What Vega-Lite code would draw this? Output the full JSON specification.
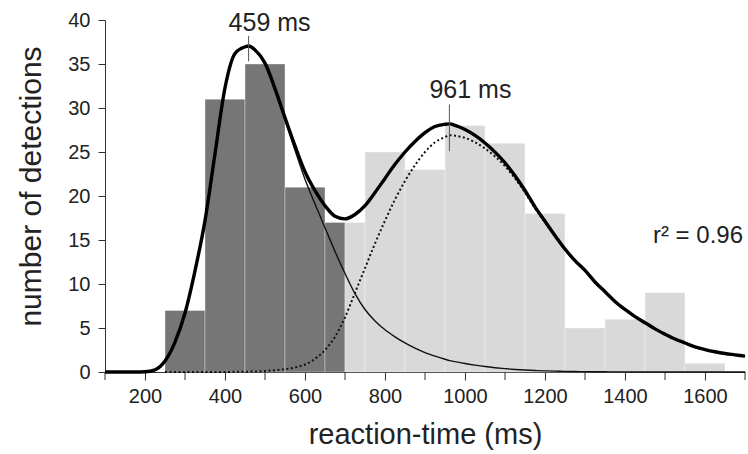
{
  "$schema": "https://vega.github.io/schema/vega-lite/v6.json",
  "width": 640,
  "height": 352,
  "autosize": {"type": "none"},
  "padding": {"left": 105, "top": 20, "right": 3, "bottom": 82},
  "background": "white",
  "config": {
    "view": {"stroke": null},
    "font": "Liberation Sans",
    "axis": {
      "domainColor": "#333333",
      "tickColor": "#333333",
      "labelColor": "#222222",
      "titleColor": "#222222",
      "labelFont": "Liberation Sans",
      "titleFont": "Liberation Sans",
      "labelFontSize": 20,
      "titleFontWeight": "normal",
      "grid": false
    }
  },
  "datasets": {
    "bars": [
      {"start": 250, "end": 350, "count": 7, "group": "fast"},
      {"start": 350, "end": 450, "count": 31, "group": "fast"},
      {"start": 450, "end": 550, "count": 35, "group": "fast"},
      {"start": 550, "end": 650, "count": 21, "group": "fast"},
      {"start": 650, "end": 700, "count": 17, "group": "fast"},
      {"start": 700, "end": 750, "count": 17, "group": "slow"},
      {"start": 750, "end": 850, "count": 25, "group": "slow"},
      {"start": 850, "end": 950, "count": 23, "group": "slow"},
      {"start": 950, "end": 1050, "count": 28, "group": "slow"},
      {"start": 1050, "end": 1150, "count": 26, "group": "slow"},
      {"start": 1150, "end": 1250, "count": 18, "group": "slow"},
      {"start": 1250, "end": 1350, "count": 5, "group": "slow"},
      {"start": 1350, "end": 1450, "count": 6, "group": "slow"},
      {"start": 1450, "end": 1550, "count": 9, "group": "slow"},
      {"start": 1550, "end": 1650, "count": 1, "group": "slow"}
    ],
    "curves": [
      {"rt": 100, "c1": 0, "c2": null, "sum": 0},
      {"rt": 150, "c1": 0, "c2": null, "sum": 0},
      {"rt": 175, "c1": 0, "c2": null, "sum": 0},
      {"rt": 200, "c1": 0.03, "c2": null, "sum": 0.03},
      {"rt": 225, "c1": 0.25, "c2": null, "sum": 0.25},
      {"rt": 250, "c1": 1.25, "c2": 0, "sum": 1.25},
      {"rt": 275, "c1": 3.4, "c2": 0, "sum": 3.4},
      {"rt": 300, "c1": 6.7, "c2": 0, "sum": 6.7},
      {"rt": 325, "c1": 11.5, "c2": 0, "sum": 11.5},
      {"rt": 350, "c1": 17.2, "c2": 0, "sum": 17.2},
      {"rt": 375, "c1": 24.8, "c2": 0.01, "sum": 24.8},
      {"rt": 400, "c1": 32.3, "c2": 0.01, "sum": 32.3},
      {"rt": 425, "c1": 36.2, "c2": 0.02, "sum": 36.2},
      {"rt": 450, "c1": 36.9, "c2": 0.03, "sum": 36.95},
      {"rt": 459, "c1": 37.0, "c2": 0.04, "sum": 37.05},
      {"rt": 475, "c1": 36.55, "c2": 0.06, "sum": 36.6},
      {"rt": 500, "c1": 35.0, "c2": 0.12, "sum": 35.1},
      {"rt": 525, "c1": 32.0, "c2": 0.2, "sum": 32.2},
      {"rt": 550, "c1": 28.6, "c2": 0.32, "sum": 28.9},
      {"rt": 575, "c1": 25.2, "c2": 0.52, "sum": 25.7},
      {"rt": 600, "c1": 21.9, "c2": 0.85, "sum": 22.75},
      {"rt": 625, "c1": 19.1, "c2": 1.5, "sum": 20.6},
      {"rt": 650, "c1": 16.4, "c2": 2.5, "sum": 18.9},
      {"rt": 675, "c1": 13.7, "c2": 4.0, "sum": 17.7},
      {"rt": 700, "c1": 11.2, "c2": 6.2, "sum": 17.4},
      {"rt": 725, "c1": 8.9, "c2": 9.0, "sum": 17.9},
      {"rt": 750, "c1": 7.1, "c2": 11.8, "sum": 18.9},
      {"rt": 775, "c1": 5.8, "c2": 14.6, "sum": 20.4},
      {"rt": 800, "c1": 4.8, "c2": 17.2, "sum": 22.0},
      {"rt": 825, "c1": 4.0, "c2": 19.6, "sum": 23.6},
      {"rt": 850, "c1": 3.3, "c2": 21.7, "sum": 25.0},
      {"rt": 875, "c1": 2.7, "c2": 23.5, "sum": 26.2},
      {"rt": 900, "c1": 2.2, "c2": 25.0, "sum": 27.2},
      {"rt": 925, "c1": 1.8, "c2": 26.1, "sum": 27.9},
      {"rt": 950, "c1": 1.45, "c2": 26.7, "sum": 28.15},
      {"rt": 962, "c1": 1.3, "c2": 26.9, "sum": 28.2},
      {"rt": 975, "c1": 1.18, "c2": 26.85, "sum": 28.03},
      {"rt": 1000, "c1": 0.96, "c2": 26.6, "sum": 27.56},
      {"rt": 1025, "c1": 0.78, "c2": 26.1, "sum": 26.88},
      {"rt": 1050, "c1": 0.62, "c2": 25.4, "sum": 26.02},
      {"rt": 1075, "c1": 0.49, "c2": 24.5, "sum": 24.99},
      {"rt": 1100, "c1": 0.38, "c2": 23.4, "sum": 23.78},
      {"rt": 1125, "c1": 0.29, "c2": 22.0, "sum": 22.29},
      {"rt": 1150, "c1": 0.22, "c2": 20.4, "sum": 20.62},
      {"rt": 1175, "c1": 0.17, "c2": 18.6, "sum": 18.77},
      {"rt": 1200, "c1": 0.13, "c2": 17.0, "sum": 17.13},
      {"rt": 1225, "c1": 0.1, "c2": 15.4, "sum": 15.5},
      {"rt": 1250, "c1": 0.07, "c2": 13.9, "sum": 13.97},
      {"rt": 1275, "c1": 0.05, "c2": 12.6, "sum": 12.65},
      {"rt": 1300, "c1": 0.04, "c2": 11.5, "sum": 11.54},
      {"rt": 1325, "c1": 0.03, "c2": 10.2, "sum": 10.23},
      {"rt": 1350, "c1": 0.02, "c2": 9.1, "sum": 9.12},
      {"rt": 1375, "c1": 0.01, "c2": 8.0, "sum": 8.01},
      {"rt": 1400, "c1": 0.01, "c2": 7.1, "sum": 7.11},
      {"rt": 1425, "c1": 0, "c2": 6.3, "sum": 6.3},
      {"rt": 1450, "c1": 0, "c2": 5.6, "sum": 5.6},
      {"rt": 1475, "c1": 0, "c2": 4.9, "sum": 4.9},
      {"rt": 1500, "c1": 0, "c2": 4.3, "sum": 4.3},
      {"rt": 1525, "c1": 0, "c2": 3.75, "sum": 3.75},
      {"rt": 1550, "c1": 0, "c2": 3.3, "sum": 3.3},
      {"rt": 1575, "c1": 0, "c2": 2.85, "sum": 2.85},
      {"rt": 1600, "c1": 0, "c2": 2.55, "sum": 2.55},
      {"rt": 1625, "c1": 0, "c2": 2.3, "sum": 2.3},
      {"rt": 1650, "c1": 0, "c2": 2.1, "sum": 2.1},
      {"rt": 1675, "c1": 0, "c2": 1.95, "sum": 1.95},
      {"rt": 1700, "c1": 0, "c2": 1.8, "sum": 1.8}
    ],
    "ticks": [
      {"rt": 100}, {"rt": 300}, {"rt": 500}, {"rt": 700}, {"rt": 900},
      {"rt": 1100}, {"rt": 1300}, {"rt": 1500}, {"rt": 1700}
    ],
    "peaks": [
      {"rt": 459, "low": 35.3, "high": 38.2, "texty": 38.8, "label": "459 ms"},
      {"rt": 961, "low": 25.1, "high": 30.4, "texty": 31.1, "label": "961 ms"}
    ],
    "fit": [
      {"rt": 1700, "y": 14.7, "label": "r² = 0.96"}
    ]
  },
  "layer": [
    {
      "data": {"name": "bars"},
      "mark": {"type": "rect", "stroke": "#ffffff", "strokeOpacity": 0.35, "strokeWidth": 1},
      "encoding": {
        "x": {
          "field": "start", "type": "quantitative",
          "scale": {"domain": [100, 1700], "nice": false, "zero": false},
          "axis": {
            "title": "reaction-time (ms)",
            "titleFontSize": 29,
            "titleX": 320,
            "titleY": 71,
            "titleBaseline": "alphabetic",
            "values": [200, 400, 600, 800, 1000, 1200, 1400, 1600],
            "format": "d",
            "tickSize": 8,
            "labelPadding": 6
          }
        },
        "x2": {"field": "end"},
        "y": {
          "field": "count", "type": "quantitative",
          "scale": {"domain": [0, 40], "nice": false},
          "axis": {
            "title": "number of detections",
            "titleFontSize": 30,
            "titleAngle": -90,
            "titleAlign": "center",
            "titleBaseline": "middle",
            "titleX": -74,
            "titleY": 166,
            "values": [0, 5, 10, 15, 20, 25, 30, 35, 40],
            "tickSize": 7,
            "labelPadding": 8
          }
        },
        "y2": {"datum": 0},
        "color": {
          "field": "group", "type": "nominal",
          "scale": {"domain": ["fast", "slow"], "range": ["#767676", "#d9d9d9"]},
          "legend": null
        }
      }
    },
    {
      "data": {"name": "ticks"},
      "mark": {"type": "rule", "color": "#333333", "strokeWidth": 1},
      "encoding": {
        "x": {"field": "rt", "type": "quantitative"},
        "y": {"datum": 0},
        "y2": {"datum": -0.91}
      }
    },
    {
      "data": {"name": "curves"},
      "mark": {"type": "line", "color": "#111111", "strokeWidth": 1.4, "interpolate": "monotone"},
      "encoding": {
        "x": {"field": "rt", "type": "quantitative"},
        "y": {"field": "c1", "type": "quantitative"}
      }
    },
    {
      "data": {"name": "curves"},
      "mark": {"type": "line", "color": "#111111", "strokeWidth": 2, "strokeDash": [2, 2.5], "interpolate": "monotone"},
      "encoding": {
        "x": {"field": "rt", "type": "quantitative"},
        "y": {"field": "c2", "type": "quantitative"}
      }
    },
    {
      "data": {"name": "curves"},
      "mark": {"type": "line", "color": "#000000", "strokeWidth": 3.4, "interpolate": "monotone"},
      "encoding": {
        "x": {"field": "rt", "type": "quantitative"},
        "y": {"field": "sum", "type": "quantitative"}
      }
    },
    {
      "data": {"name": "peaks"},
      "mark": {"type": "rule", "color": "#555555", "strokeWidth": 1},
      "encoding": {
        "x": {"field": "rt", "type": "quantitative"},
        "y": {"field": "low", "type": "quantitative"},
        "y2": {"field": "high"}
      }
    },
    {
      "data": {"name": "peaks"},
      "mark": {"type": "text", "align": "left", "baseline": "alphabetic", "dx": -20, "fontSize": 25, "color": "#222222", "font": "Liberation Sans"},
      "encoding": {
        "x": {"field": "rt", "type": "quantitative"},
        "y": {"field": "texty", "type": "quantitative"},
        "text": {"field": "label"}
      }
    },
    {
      "data": {"name": "fit"},
      "mark": {"type": "text", "align": "right", "baseline": "alphabetic", "dx": -2, "fontSize": 24, "color": "#222222", "font": "Liberation Sans"},
      "encoding": {
        "x": {"field": "rt", "type": "quantitative"},
        "y": {"field": "y", "type": "quantitative"},
        "text": {"field": "label"}
      }
    }
  ]
}
